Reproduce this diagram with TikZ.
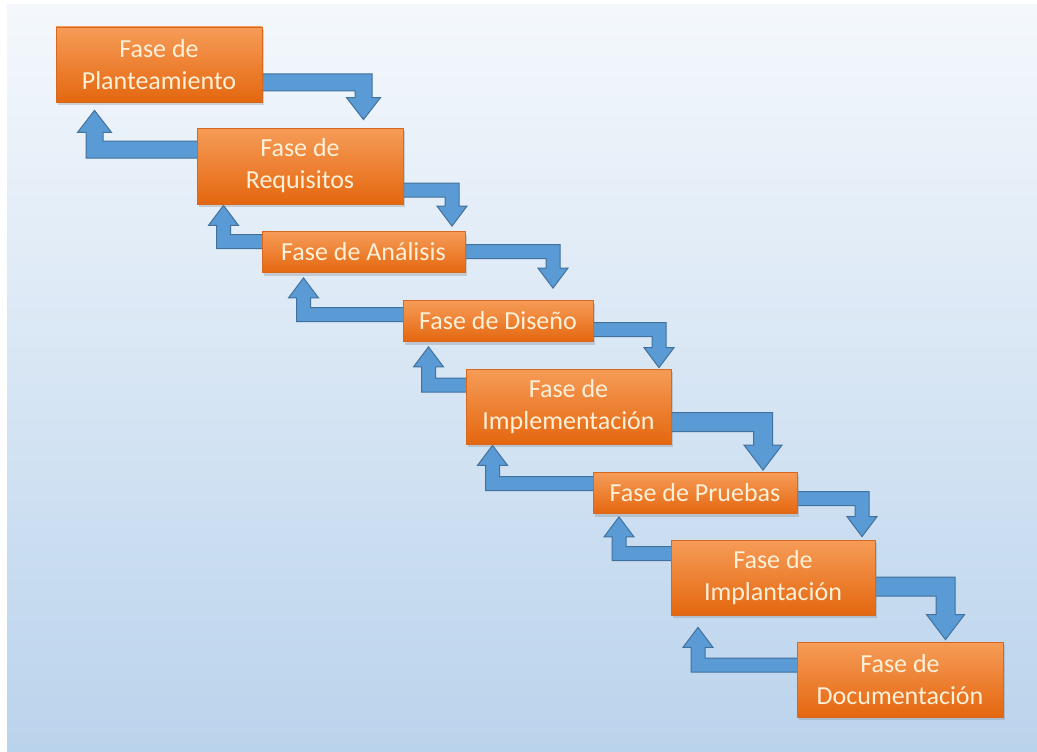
\documentclass[tikz,border=0pt]{standalone}
\usepackage{fontspec}
\setmainfont{Carlito}
\usetikzlibrary{calc,shadows}
\pgfdeclarelayer{background}
\pgfsetlayers{background,main}

\definecolor{bgtop}{HTML}{F4F8FC}
\definecolor{bgbottom}{HTML}{BAD3EC}
\definecolor{phasetop}{HTML}{F69C58}
\definecolor{phasebottom}{HTML}{E4670F}
\definecolor{phaseline}{HTML}{D9681F}
\definecolor{phasetext}{HTML}{FFF0D8}
\definecolor{flowfill}{HTML}{5B9BD5}
\definecolor{flowline}{HTML}{41719C}

\newcommand\flowband{7}
\newcommand\flowhead{15}
\newcommand\flowlen{20}
\newcommand\setflow[3]{\renewcommand\flowband{#1}\renewcommand\flowhead{#2}\renewcommand\flowlen{#3}}

\newcommand\fwdarrow[5]{%
  \path ($(#1.east |- 0,#3)+(-4,0)$) coordinate (s)
        ($(#4,0 |- #2.north)+(0,-#5)$) coordinate (t);
  \filldraw[flow] ($(s)+(0,-\flowband)$) -| ($(t)+(\flowband,-\flowlen)$)
    -- ++({\flowhead-\flowband},0) -- (t) -- ++(-\flowhead,-\flowlen)
    -- ++({\flowhead-\flowband},0) |- ($(s)+(0,\flowband)$) -- cycle;
}
\newcommand\backarrow[5]{%
  \path ($(#1.west |- 0,#3)+(4,0)$) coordinate (s)
        ($(#4,0 |- #2.south)+(0,#5)$) coordinate (t);
  \filldraw[flow] ($(s)+(0,-\flowband)$) -| ($(t)+(\flowband,\flowlen)$)
    -- ++({\flowhead-\flowband},0) -- (t) -- ++(-\flowhead,\flowlen)
    -- ++({\flowhead-\flowband},0) |- ($(s)+(0,\flowband)$) -- cycle;
}

\begin{document}
\begin{tikzpicture}[
    x=1pt, y=-1pt,
    phase/.style={rectangle, draw=phaseline, line width=0.8pt, inner sep=0pt,
                  top color=phasetop, bottom color=phasebottom, text=phasetext,
                  align=center, font=\fontsize{26}{32}\selectfont,
                  drop shadow={shadow xshift=2pt, shadow yshift=-3pt, opacity=0.3}},
    tall/.style={phase, minimum height=75pt},
    flat/.style={phase, minimum height=41pt},
    flow/.style={fill=flowfill, draw=flowline, line width=1pt, line join=miter}
]
\useasboundingbox (0,0) rectangle (1037,752);
\begin{pgfonlayer}{background}
\fill[white] (0,0) rectangle (1037,752);
\shade[top color=bgtop, bottom color=bgbottom] (7,5) rectangle (1037,752);
\end{pgfonlayer}

\node (plan) [tall, minimum width=206pt] at (159, 64.5) {Fase de\\Planteamiento};
\node (req) [tall, minimum width=206pt, minimum height=76pt] at (300, 166) {Fase de\\Requisitos};
\node (ana) [flat, minimum width=203pt] at (363.5, 252) {Fase de Análisis};
\node (dis) [flat, minimum width=190pt] at (498, 321) {Fase de Diseño};
\node (imp) [tall, minimum width=205pt] at (568.5, 406.5) {Fase de\\Implementación};
\node (pru) [flat, minimum width=204pt] at (695, 493) {Fase de Pruebas};
\node (ipt) [tall, minimum width=204pt] at (773, 577.5) {Fase de\\Implantación};
\node (doc) [tall, minimum width=206pt] at (900, 679.5) {Fase de\\Documentación};

\begin{pgfonlayer}{background}
\setflow{8.5}{17}{22}
\fwdarrow{plan}{req}{82.5}{363.5}{8}
\backarrow{req}{plan}{149.5}{94.5}{8}
\setflow{7}{15}{20}
\fwdarrow{req}{ana}{190}{452}{5}
\backarrow{ana}{req}{241.5}{223.5}{1}
\fwdarrow{ana}{dis}{251.5}{553}{12}
\backarrow{dis}{ana}{314.5}{303.5}{5}
\fwdarrow{dis}{imp}{329.5}{659}{1}
\backarrow{imp}{dis}{385}{428.5}{5}
\backarrow{pru}{imp}{483.5}{492.5}{1}
\fwdarrow{pru}{ipt}{498.5}{862}{3}
\backarrow{ipt}{pru}{553.5}{619}{3}
\backarrow{doc}{ipt}{665}{698}{12}
\setflow{9.5}{19}{25}
\fwdarrow{imp}{pru}{422}{763}{2}
\fwdarrow{ipt}{doc}{586.5}{945.5}{2}
\end{pgfonlayer}
\end{tikzpicture}
\end{document}
